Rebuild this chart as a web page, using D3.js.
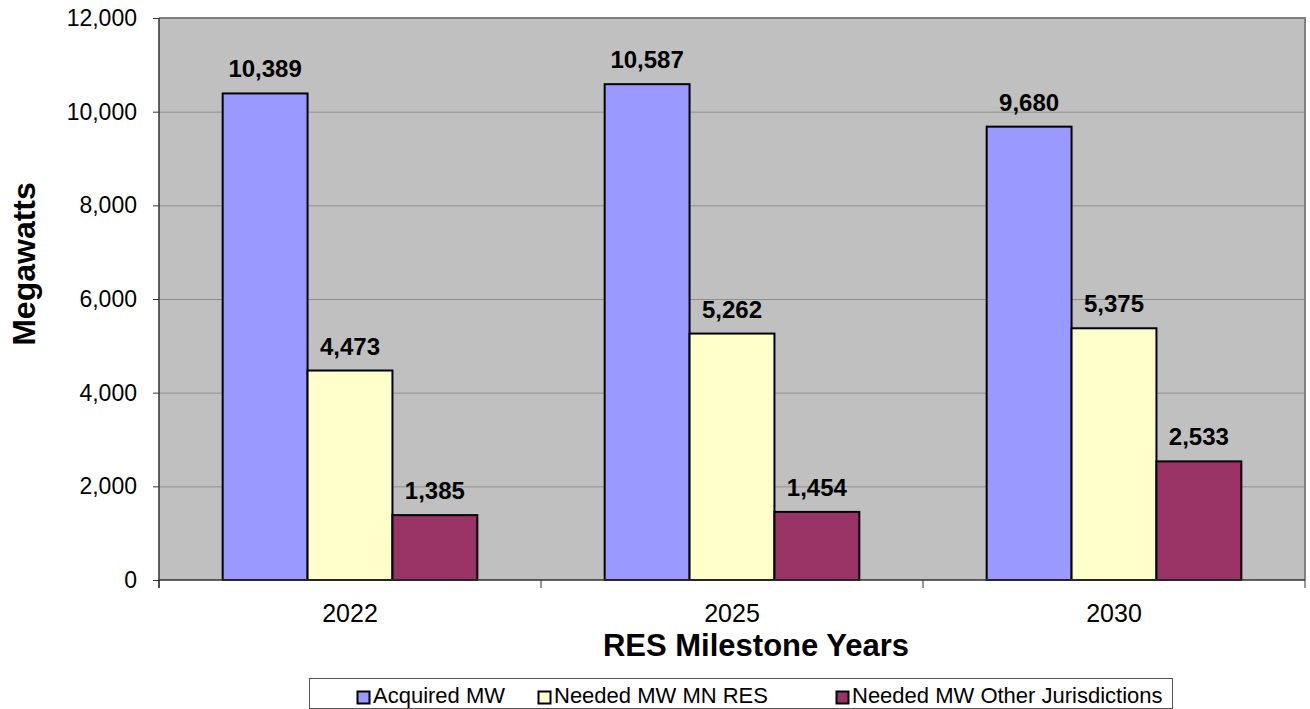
<!DOCTYPE html>
<html>
<head>
<meta charset="utf-8">
<script src="https://cdn.jsdelivr.net/npm/d3@7"></script>
<style>
  html, body { margin: 0; padding: 0; background: #ffffff; }
  svg { display: block; font-family: "Liberation Sans", Arial, sans-serif; }
</style>
</head>
<body>
<svg id="chart" width="1310" height="709"></svg>
<script>
// Milestone years and the three megawatt series
const years = ["2022", "2025", "2030"];
const seriesNames = ["Acquired MW", "Needed MW MN RES", "Needed MW Other Jurisdictions"];
const acquired = [10389, 10587, 9680];
const neededMN = [4473, 5262, 5375];
const neededOther = [1385, 1454, 2533];
const yTicks = [0, 2000, 4000, 6000, 8000, 10000, 12000];
const colors = ["#9999FF", "#FFFFCC", "#993366"];

const seriesValues = [acquired, neededMN, neededOther];

const svg = d3.select("#chart");
const plot = { left: 159, right: 1305, top: 18, bottom: 580 };

const x0 = d3.scaleBand().domain(years).range([plot.left, plot.right]).padding(0);
const x1 = d3.scaleBand().domain(seriesNames).range([0, x0.bandwidth()])
  .paddingInner(0).paddingOuter(0.75);
const y = d3.scaleLinear().domain([0, 12000]).range([plot.bottom, plot.top]);

// plot background
svg.append("rect")
  .attr("x", plot.left).attr("y", plot.top)
  .attr("width", plot.right - plot.left).attr("height", plot.bottom - plot.top)
  .attr("fill", "#C0C0C0");

// horizontal gridlines
svg.append("g").selectAll("line")
  .data(yTicks.filter(v => v > 0 && v < 12000))
  .join("line")
  .attr("x1", plot.left).attr("x2", plot.right)
  .attr("y1", d => y(d) + 0.5).attr("y2", d => y(d) + 0.5)
  .attr("stroke", "#8f8f8f").attr("stroke-width", 1);

// top and right frame of the plot area
svg.append("path")
  .attr("d", `M${plot.left},${plot.top} H${plot.right} V${plot.bottom}`)
  .attr("fill", "none").attr("stroke", "#808080").attr("stroke-width", 2);

// bars
const groups = svg.append("g").selectAll("g")
  .data(years)
  .join("g")
  .attr("transform", d => `translate(${x0(d)},0)`);

groups.selectAll("rect")
  .data((yr, i) => seriesNames.map((s, k) => ({ s, k, v: seriesValues[k][i] })))
  .join("rect")
  .attr("x", d => x1(d.s))
  .attr("width", x1.bandwidth())
  .attr("y", d => y(d.v))
  .attr("height", d => y(0) - y(d.v))
  .attr("fill", d => colors[d.k])
  .attr("stroke", "#000").attr("stroke-width", 2);

// value labels
groups.selectAll("text")
  .data((yr, i) => seriesNames.map((s, k) => ({ s, k, v: seriesValues[k][i] })))
  .join("text")
  .attr("x", d => x1(d.s) + x1.bandwidth() / 2)
  .attr("y", d => y(d.v) - 16)
  .attr("text-anchor", "middle")
  .attr("font-size", 24).attr("font-weight", "bold").attr("fill", "#000")
  .text(d => d3.format(",")(d.v));

// y axis
const yAxis = svg.append("g")
  .attr("transform", `translate(${plot.left},0)`)
  .call(d3.axisLeft(y).tickValues(yTicks).tickFormat(d3.format(",")).tickSize(6).tickPadding(16));
yAxis.select(".domain").attr("stroke", "#333").attr("stroke-width", 1.5)
  .attr("d", `M0,${plot.top}V${plot.bottom + 8}`);
yAxis.selectAll(".tick line").attr("stroke", "#333");
yAxis.selectAll(".tick text").attr("font-size", 23).attr("fill", "#000")
  .attr("font-family", "Liberation Sans, Arial, sans-serif");

// x axis line with ticks at category boundaries
svg.append("line")
  .attr("x1", plot.left).attr("x2", plot.right)
  .attr("y1", plot.bottom).attr("y2", plot.bottom)
  .attr("stroke", "#333").attr("stroke-width", 1.5);
const bounds = years.map(d => x0(d)).concat([x0(years[years.length - 1]) + x0.bandwidth()]);
svg.append("g").selectAll("line")
  .data(bounds)
  .join("line")
  .attr("x1", d => d).attr("x2", d => d)
  .attr("y1", plot.bottom).attr("y2", plot.bottom + 8)
  .attr("stroke", "#333").attr("stroke-width", 1);

// category labels
svg.append("g").selectAll("text")
  .data(years)
  .join("text")
  .attr("x", d => x0(d) + x0.bandwidth() / 2)
  .attr("y", 622)
  .attr("text-anchor", "middle")
  .attr("font-size", 25).attr("fill", "#000")
  .text(d => d);

// axis titles
svg.append("text")
  .attr("x", 756).attr("y", 656)
  .attr("text-anchor", "middle")
  .attr("font-size", 31).attr("font-weight", "bold")
  .text("RES Milestone Years");

svg.append("text")
  .attr("transform", "translate(35,264) rotate(-90)")
  .attr("text-anchor", "middle")
  .attr("font-size", 32).attr("font-weight", "bold")
  .text("Megawatts");

// legend
const legend = svg.append("g");
legend.append("rect")
  .attr("x", 309.5).attr("y", 678.5).attr("width", 863).attr("height", 30)
  .attr("fill", "#fff").attr("stroke", "#555").attr("stroke-width", 1);
const legendX = [357, 538, 836];
const items = legend.selectAll("g.item")
  .data(seriesNames)
  .join("g")
  .attr("class", "item")
  .attr("transform", (d, i) => `translate(${legendX[i]},0)`);
items.append("rect")
  .attr("x", 0.5).attr("y", 691.5).attr("width", 12).attr("height", 12)
  .attr("fill", (d, i) => colors[i]).attr("stroke", "#000").attr("stroke-width", 2);
items.append("text")
  .attr("x", 16).attr("y", 703)
  .attr("font-size", 22).attr("fill", "#000")
  .text(d => d);
</script>
</body>
</html>
